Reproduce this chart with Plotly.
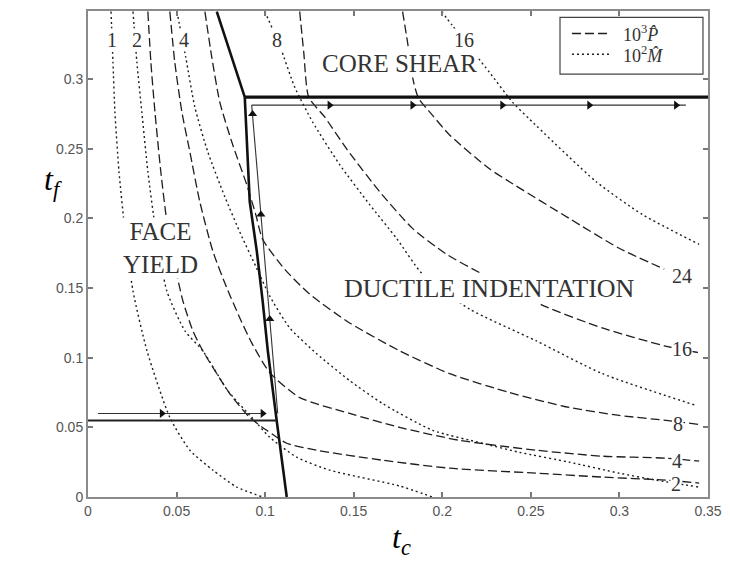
import plotly.graph_objects as go

# ---------------- data (tc, tf) ----------------
# 10^3 P-hat contours (dashed)
p2_tc = [0.0338, 0.0355, 0.0378, 0.0411, 0.0445, 0.0485, 0.0536, 0.0592, 0.0648, 0.0800, 0.0913, 0.1009, 0.1122, 0.1291, 0.1663, 0.2041, 0.2531, 0.2903, 0.3264, 0.3450]
p2_tf = [0.3486, 0.3121, 0.2764, 0.2336, 0.1979, 0.1693, 0.1407, 0.1193, 0.1050, 0.0743, 0.0571, 0.0479, 0.0386, 0.0336, 0.0264, 0.0207, 0.0171, 0.0143, 0.0121, 0.0100]
p4_tc = [0.0462, 0.0490, 0.0530, 0.0575, 0.0631, 0.0705, 0.0784, 0.0857, 0.0924, 0.1026, 0.1195, 0.1477, 0.1759, 0.2097, 0.2531, 0.2903, 0.3264, 0.3450]
p4_tf = [0.3486, 0.3121, 0.2764, 0.2479, 0.2121, 0.1764, 0.1500, 0.1286, 0.1107, 0.0893, 0.0714, 0.0600, 0.0500, 0.0407, 0.0336, 0.0293, 0.0279, 0.0257]
p8_tc = [0.0660, 0.0699, 0.0744, 0.0817, 0.0896, 0.0947, 0.0986, 0.1110, 0.1251, 0.1477, 0.1759, 0.2041, 0.2379, 0.2717, 0.2999, 0.3264, 0.3450]
p8_tf = [0.3486, 0.3157, 0.2836, 0.2529, 0.2243, 0.2029, 0.1850, 0.1636, 0.1457, 0.1250, 0.1050, 0.0886, 0.0750, 0.0643, 0.0586, 0.0550, 0.0521]
p16_tc = [0.1195, 0.1218, 0.1246, 0.1336, 0.1460, 0.1646, 0.1832, 0.2024, 0.2227, 0.2576, 0.2903, 0.3253, 0.3450]
p16_tf = [0.3486, 0.3193, 0.2871, 0.2729, 0.2500, 0.2193, 0.1929, 0.1743, 0.1600, 0.1371, 0.1214, 0.1086, 0.1036]
p24_tc = [0.1776, 0.1804, 0.1838, 0.1866, 0.1939, 0.2041, 0.2266, 0.2379, 0.2717, 0.2999, 0.3253]
p24_tf = [0.3486, 0.3264, 0.2979, 0.2864, 0.2750, 0.2600, 0.2357, 0.2264, 0.2000, 0.1786, 0.1636]

# 10^2 M-hat contours (dotted)
m1_tc = [0.0130, 0.0141, 0.0152, 0.0175, 0.0209, 0.0254, 0.0333, 0.0462, 0.0575, 0.0705, 0.0840, 0.0986]
m1_tf = [0.3486, 0.3121, 0.2764, 0.2336, 0.1907, 0.1479, 0.1050, 0.0571, 0.0336, 0.0193, 0.0071, 0.0]
m2_tc = [0.0254, 0.0276, 0.0304, 0.0338, 0.0383, 0.0445, 0.0547, 0.0648, 0.0789, 0.0930, 0.1026, 0.1178, 0.1364, 0.1759, 0.1945]
m2_tf = [0.3486, 0.3121, 0.2764, 0.2336, 0.1907, 0.1479, 0.1193, 0.1050, 0.0764, 0.0564, 0.0429, 0.0286, 0.0193, 0.0079, 0.0]
m4_tc = [0.0502, 0.0552, 0.0603, 0.0676, 0.0772, 0.0868, 0.0947, 0.1026, 0.1139, 0.1291, 0.1477, 0.1663, 0.1945, 0.2227, 0.2435, 0.2717, 0.2999, 0.3207, 0.3450]
m4_tf = [0.3486, 0.3157, 0.2800, 0.2479, 0.2157, 0.1871, 0.1657, 0.1443, 0.1214, 0.1029, 0.0836, 0.0671, 0.0479, 0.0386, 0.0321, 0.0250, 0.0171, 0.0121, 0.0071]
m8_tc = [0.0998, 0.1082, 0.1167, 0.1268, 0.1421, 0.1590, 0.1742, 0.1888, 0.2153, 0.2531, 0.2903, 0.3433]
m8_tf = [0.3486, 0.3243, 0.2943, 0.2693, 0.2386, 0.2100, 0.1857, 0.1600, 0.1350, 0.1121, 0.0886, 0.0657]
m16_tc = [0.1996, 0.2057, 0.2266, 0.2396, 0.2492, 0.2869, 0.3129, 0.3450]
m16_tf = [0.3486, 0.3386, 0.3050, 0.2836, 0.2714, 0.2264, 0.2029, 0.1814]

# regime boundaries
bound_tc = [0.0727, 0.0885, 0.0913, 0.0953, 0.0986, 0.1015, 0.1065, 0.1122]
bound_tf = [0.3486, 0.2871, 0.2121, 0.1764, 0.1407, 0.1050, 0.0550, 0.0]
shear_tc = [0.0885, 0.3500]
shear_tf = [0.2871, 0.2871]
face_tc = [0.0, 0.1065]
face_tf = [0.0550, 0.0550]

# optimal-design path (thin line with arrows)
path_a_tc = [0.0056, 0.1003]
path_a_tf = [0.0600, 0.0600]
path_b_tc = [0.1071, 0.0924]
path_b_tf = [0.0600, 0.2814]
path_c_tc = [0.0924, 0.3375]
path_c_tf = [0.2814, 0.2814]
arrow_right_tc = [0.0417, 0.0986, 0.1364, 0.1832, 0.2339, 0.2830, 0.3320]
arrow_right_tf = [0.0600, 0.0600, 0.2814, 0.2814, 0.2814, 0.2814, 0.2814]
arrow_up_tc = [0.1026, 0.0976, 0.0929]
arrow_up_tf = [0.1279, 0.2029, 0.2750]

# contour labels
top_labels = ["1", "2", "4", "8", "16"]
top_label_tc = [0.0135, 0.0276, 0.0541, 0.1065, 0.2125]
top_label_tf = [0.3279, 0.3279, 0.3279, 0.3279, 0.3279]
right_labels = ["24", "16", "8", "4", "2"]
right_label_tc = [0.3354, 0.3354, 0.3331, 0.3326, 0.3320]
right_label_tf = [0.1586, 0.1064, 0.0521, 0.0257, 0.0093]

legend_labels = ["10<sup>3</sup><i>P̂</i>", "10<sup>2</sup><i>M̂</i>"]

x_ticks = [0, 0.05, 0.1, 0.15, 0.2, 0.25, 0.3, 0.35]
x_ticktext = ["0", "0.05", "0.1", "0.15", "0.2", "0.25", "0.3", "0.35"]
y_ticks = [0, 0.05, 0.1, 0.15, 0.2, 0.25, 0.3]
y_ticktext = ["0", "0.05", "0.1", "0.15", "0.2", "0.25", "0.3"]

# ---------------- figure ----------------
INK = "#1e1e1e"
SERIF = "Liberation Serif, Times New Roman, serif"
P_DASH = "9px,4px"
M_DASH = "2px,3px"
fig = go.Figure()

p_curves = [(p2_tc, p2_tf), (p4_tc, p4_tf), (p8_tc, p8_tf), (p16_tc, p16_tf), (p24_tc, p24_tf)]
m_curves = [(m1_tc, m1_tf), (m2_tc, m2_tf), (m4_tc, m4_tf), (m8_tc, m8_tf), (m16_tc, m16_tf)]

for xs, ys in p_curves:
    fig.add_trace(go.Scatter(x=xs, y=ys, mode="lines", line=dict(color=INK, width=1.3, dash=P_DASH, shape="spline", smoothing=0.6),
                             showlegend=False, hoverinfo="skip"))
for xs, ys in m_curves:
    fig.add_trace(go.Scatter(x=xs, y=ys, mode="lines", line=dict(color=INK, width=1.4, dash=M_DASH, shape="spline", smoothing=0.6),
                             showlegend=False, hoverinfo="skip"))

# boundaries
fig.add_trace(go.Scatter(x=bound_tc, y=bound_tf, mode="lines", line=dict(color="#111", width=2.6), showlegend=False, hoverinfo="skip"))
fig.add_trace(go.Scatter(x=shear_tc, y=shear_tf, mode="lines", line=dict(color="#111", width=3.2), showlegend=False, hoverinfo="skip"))
fig.add_trace(go.Scatter(x=face_tc, y=face_tf, mode="lines", line=dict(color="#222", width=2), showlegend=False, hoverinfo="skip"))

# path with arrows
for xs, ys in [(path_a_tc, path_a_tf), (path_b_tc, path_b_tf), (path_c_tc, path_c_tf)]:
    fig.add_trace(go.Scatter(x=xs, y=ys, mode="lines", line=dict(color="#333", width=1.1), showlegend=False, hoverinfo="skip"))
fig.add_trace(go.Scatter(x=arrow_right_tc, y=arrow_right_tf, mode="markers",
                         marker=dict(symbol="triangle-right", size=8, color="#111"), showlegend=False, hoverinfo="skip"))
fig.add_trace(go.Scatter(x=arrow_up_tc, y=arrow_up_tf, mode="markers",
                         marker=dict(symbol="triangle-up", size=8, color="#111"), showlegend=False, hoverinfo="skip"))

ann = []
def lab(x, y, t, size, xanchor="center"):
    ann.append(dict(x=x, y=y, xref="x", yref="y", text=t, showarrow=False, xanchor=xanchor, yanchor="middle",
                    font=dict(family=SERIF, size=size, color="#333"), bgcolor="white", borderpad=0))

# region names first, contour numbers drawn on top of them
lab(0.1759, 0.3115, "CORE SHEAR", 25)
lab(0.0411, 0.1785, "FACE<br>YIELD", 25)
lab(0.2266, 0.1500, "DUCTILE INDENTATION", 26)
for t, x, y in zip(top_labels, top_label_tc, top_label_tf):
    lab(x, y, t, 20)
for t, x, y in zip(right_labels, right_label_tc, right_label_tf):
    lab(x, y, t, 20)

# axis titles
ann.append(dict(x=-0.057, y=0.649, xref="paper", yref="paper", showarrow=False, xanchor="center", yanchor="middle",
                text="<i>t</i><sub><i>f</i></sub>", font=dict(family=SERIF, size=32, color="#000")))
ann.append(dict(x=0.505, y=-0.088, xref="paper", yref="paper", showarrow=False, xanchor="center", yanchor="middle",
                text="<i>t</i><sub><i>c</i></sub>", font=dict(family=SERIF, size=32, color="#000")))

# legend (box, line samples, labels) in paper coordinates
shapes = [dict(type="rect", xref="paper", yref="paper", x0=0.7613, x1=0.9919, y0=0.870, y1=0.9867,
               line=dict(color="#444", width=1.2), fillcolor="white", layer="above")]
legend_rows_y = [0.9539, 0.9110]
for yy, dsh in zip(legend_rows_y, [P_DASH, M_DASH]):
    shapes.append(dict(type="line", xref="paper", yref="paper", x0=0.7806, x1=0.8419, y0=yy, y1=yy,
                       line=dict(color=INK, width=1.5, dash=dsh), layer="above"))
for yy, t in zip(legend_rows_y, legend_labels):
    ann.append(dict(x=0.8600, y=yy, xref="paper", yref="paper", showarrow=False, xanchor="left", yanchor="middle",
                    text=t, font=dict(family=SERIF, size=18, color="#333")))

axis_common = dict(showgrid=False, zeroline=False, showline=True, mirror="ticks", linecolor="#8a8a8a", linewidth=2,
                   ticks="inside", ticklen=5, tickcolor="#777", tickwidth=1.5,
                   tickfont=dict(family="Liberation Sans, Arial, sans-serif", size=14, color="#555"))

# the page body adds an 8px margin, so the figure is 8px smaller in each direction
fig.update_layout(
    width=722, height=553,
    margin=dict(l=80, r=22, t=1, b=64),
    paper_bgcolor="white", plot_bgcolor="white",
    showlegend=False,
    xaxis=dict(range=[0, 0.35], tickvals=x_ticks, ticktext=x_ticktext, **axis_common),
    yaxis=dict(range=[0, 0.349], tickvals=y_ticks, ticktext=y_ticktext, **axis_common),
    annotations=ann,
    shapes=shapes,
)

fig.write_html("out.html")
